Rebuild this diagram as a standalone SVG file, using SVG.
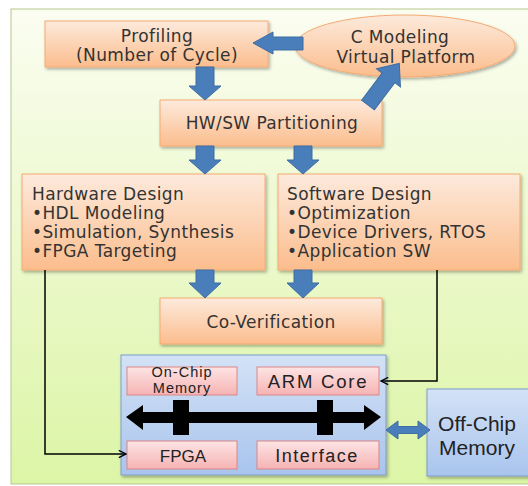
<svg xmlns="http://www.w3.org/2000/svg" width="528" height="486" viewBox="0 0 528 486">
  <defs>
    <linearGradient id="bg" x1="0" y1="0" x2="0" y2="1">
      <stop offset="0" stop-color="#fbfdf1"/>
      <stop offset="1" stop-color="#dcf5a6"/>
    </linearGradient>
    <linearGradient id="org" x1="0" y1="0" x2="0" y2="1">
      <stop offset="0" stop-color="#fdeadc"/>
      <stop offset="1" stop-color="#fbbd8d"/>
    </linearGradient>
    <linearGradient id="blu" x1="0" y1="0" x2="0" y2="1">
      <stop offset="0" stop-color="#d3e2f6"/>
      <stop offset="1" stop-color="#a9c4ed"/>
    </linearGradient>
    <linearGradient id="pnk" x1="0" y1="0" x2="0" y2="1">
      <stop offset="0" stop-color="#fde4e4"/>
      <stop offset="1" stop-color="#f6b3b3"/>
    </linearGradient>
    <filter id="sh" x="-10%" y="-10%" width="125%" height="130%">
      <feDropShadow dx="1.5" dy="2" stdDeviation="1.5" flood-color="#000" flood-opacity="0.3"/>
    </filter>
    <marker id="open" viewBox="0 0 10 10" refX="9" refY="5" markerWidth="9" markerHeight="9" markerUnits="userSpaceOnUse" orient="auto">
      <path d="M1,1 L9,5 L1,9" fill="none" stroke="#000" stroke-width="1.5"/>
    </marker>
  </defs>
  <style>
    .ob { fill: url(#org); stroke: #f5aa72; stroke-width: 1; filter: url(#sh); }
    .bb { fill: url(#blu); stroke: #7d9dcb; stroke-width: 1; filter: url(#sh); }
    .pb { fill: url(#pnk); stroke: #dc8686; stroke-width: 1; }
    .t { font-family: "DejaVu Sans", sans-serif; font-size: 17px; letter-spacing: 0.4px; fill: #333; }
    .c { text-anchor: middle; }
    .s { font-family: "Liberation Sans", Arial, sans-serif; fill: #222; text-anchor: middle; }
    .ba { fill: #4a7ebb; stroke: #3d6ca3; stroke-width: 1; }
    .ln { fill: none; stroke: #000; stroke-width: 1.5; }
  </style>

  <rect x="11" y="9" width="530" height="475" fill="url(#bg)" stroke="#b6c78c" stroke-width="1"/>

  <g id="profiling">
    <rect class="ob" x="45" y="21" width="223" height="46"/>
    <text class="t c" x="157" y="42">Profiling</text>
    <text class="t c" x="157" y="61">(Number of Cycle)</text>
  </g>

  <g id="cmodeling">
    <ellipse class="ob" cx="405" cy="46" rx="110" ry="31"/>
    <text class="t c" x="400" y="43">C Modeling</text>
    <text class="t c" x="406" y="63">Virtual Platform</text>
  </g>

  <g id="partitioning">
    <rect class="ob" x="160" y="100" width="222" height="46"/>
    <text class="t c" x="272" y="129">HW/SW Partitioning</text>
  </g>

  <g id="hardware">
    <rect class="ob" x="22" y="174" width="243" height="96"/>
    <text class="t" x="32" y="199.5">Hardware Design</text>
    <text class="t" x="32" y="218.5">•HDL Modeling</text>
    <text class="t" x="32" y="237.5">•Simulation, Synthesis</text>
    <text class="t" x="32" y="256.5">•FPGA Targeting</text>
  </g>

  <g id="software">
    <rect class="ob" x="278" y="174" width="242" height="96"/>
    <text class="t" x="287" y="199.5">Software Design</text>
    <text class="t" x="287" y="218.5">•Optimization</text>
    <text class="t" x="287" y="237.5">•Device Drivers, RTOS</text>
    <text class="t" x="287" y="256.5">•Application SW</text>
  </g>

  <g id="coverification">
    <rect class="ob" x="160" y="298" width="222" height="46"/>
    <text class="t c" x="271" y="328">Co-Verification</text>
  </g>

  <g id="chip">
    <rect class="bb" x="121" y="355" width="265" height="120"/>
    <g id="onchip">
      <rect class="pb" x="127" y="367" width="110" height="28"/>
      <text class="s" x="182" y="377" font-size="14.5" letter-spacing="1">On-Chip</text>
      <text class="s" x="182" y="393" font-size="14.5" letter-spacing="1">Memory</text>
    </g>
    <g id="arm">
      <rect class="pb" x="257" y="367" width="122" height="28"/>
      <text class="s" x="318" y="388" font-size="18.5" letter-spacing="1.8">ARM Core</text>
    </g>
    <g id="fpga">
      <rect class="pb" x="127" y="441" width="110" height="28"/>
      <text class="s" x="183" y="462" font-size="17">FPGA</text>
    </g>
    <g id="interface">
      <rect class="pb" x="257" y="441" width="122" height="28"/>
      <text class="s" x="317" y="462" font-size="18" letter-spacing="1.5">Interface</text>
    </g>
    <g id="bus">
      <polygon fill="#000" points="126,417 143,405 143,412 364,412 364,405 381,417 364,430 364,423 143,423 143,430"/>
      <rect x="173" y="400" width="16" height="35" fill="#000"/>
      <rect x="317" y="400" width="16" height="35" fill="#000"/>
    </g>
  </g>

  <g id="offchip">
    <rect class="bb" x="427" y="389" width="106" height="87"/>
    <text class="s" x="477" y="431" font-size="21">Off-Chip</text>
    <text class="s" x="477" y="455" font-size="21">Memory</text>
  </g>

  <g id="connectors">
    <polygon class="ba" points="253,43 273,32 273,37 303,37 303,50 273,50 273,54"/>
    <polygon class="ba" points="196,67 214,67 214,86 221,86 205,100 189,86 196,86"/>
    <polygon class="ba" transform="translate(368,105) rotate(-53)" points="0,-8 34,-8 34,-15 52,0 34,15 34,8 0,8"/>
    <polygon class="ba" points="196,146 214,146 214,160 221,160 205,174 189,160 196,160"/>
    <polygon class="ba" points="294,146 312,146 312,160 319,160 303,174 287,160 294,160"/>
    <polygon class="ba" points="196,270 214,270 214,283 221,283 205,298 189,283 196,283"/>
    <polygon class="ba" points="294,270 312,270 312,283 319,283 303,298 287,283 294,283"/>
    <polygon class="ba" points="386,430 398,421 398,426.5 418,426.5 418,421 430,430 418,439 418,433.5 398,433.5 398,439"/>
    <path class="ln" d="M45,270 V454 H126" marker-end="url(#open)"/>
    <path class="ln" d="M437,270 V381 H381" marker-end="url(#open)"/>
  </g>
</svg>
